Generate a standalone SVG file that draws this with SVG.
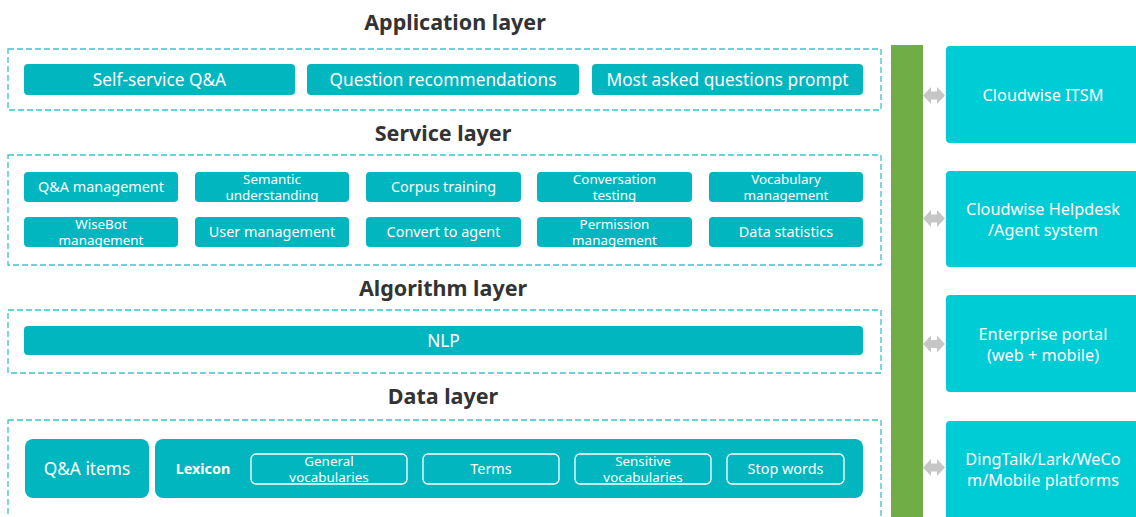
<svg xmlns="http://www.w3.org/2000/svg" width="1136" height="517" viewBox="0 0 1136 517">
<defs>
<style>
.title{font-family:"Noto Sans","Open Sans",sans-serif;font-weight:bold;font-size:21.5px;fill:#333;text-anchor:middle}
.frame{fill:none;stroke:#3cc3cd;stroke-width:1.3;stroke-dasharray:6 3}
.btn{fill:#02b6bf}
.bt{font-family:"Noto Sans","Open Sans",sans-serif;font-size:17.3px;fill:#fff;text-anchor:middle}
.st{font-family:"Noto Sans","Open Sans",sans-serif;font-size:14.4px;fill:#fff;text-anchor:middle}
.s2{font-family:"Noto Sans","Open Sans",sans-serif;font-size:13.4px;fill:#fff;text-anchor:middle}
.ob{fill:none;stroke:#fff;stroke-width:1.3}
.ext{fill:#00ccd5}
.et{font-family:"Noto Sans","Open Sans",sans-serif;font-size:16.3px;fill:#fff;text-anchor:middle}
.arr{fill:#c6c6c6}
</style>
<clipPath id="r1"><rect x="0" y="172" width="880" height="30"/></clipPath>
<clipPath id="r2"><rect x="0" y="217" width="880" height="30"/></clipPath>
<clipPath id="r3"><rect x="0" y="454" width="880" height="30"/></clipPath>
</defs>

<g id="application-layer">
<text class="title" x="455" y="30">Application layer</text>
<rect class="frame" x="8" y="49" width="873" height="61"/>
<rect class="btn" x="24" y="64" width="271" height="31" rx="4"/>
<text class="bt" x="159.5" y="85.5">Self-service Q&amp;A</text>
<rect class="btn" x="307" y="64" width="272" height="31" rx="4"/>
<text class="bt" x="443" y="85.5">Question recommendations</text>
<rect class="btn" x="592" y="64" width="271" height="31" rx="4"/>
<text class="bt" x="727.5" y="85.5">Most asked questions prompt</text>
</g>

<g id="service-layer">
<text class="title" x="443" y="141">Service layer</text>
<rect class="frame" x="8" y="155" width="873" height="110"/>
<rect class="btn" x="24" y="172" width="154" height="30" rx="4"/>
<text class="st" x="101" y="192">Q&amp;A management</text>
<rect class="btn" x="195" y="172" width="154" height="30" rx="4"/>
<g clip-path="url(#r1)"><text class="s2" x="272" y="183.5">Semantic</text><text class="s2" x="272" y="200">understanding</text></g>
<rect class="btn" x="366" y="172" width="155" height="30" rx="4"/>
<text class="st" x="443.5" y="192">Corpus training</text>
<rect class="btn" x="537" y="172" width="155" height="30" rx="4"/>
<g clip-path="url(#r1)"><text class="s2" x="614.5" y="183.5">Conversation</text><text class="s2" x="614.5" y="200">testing</text></g>
<rect class="btn" x="709" y="172" width="154" height="30" rx="4"/>
<g clip-path="url(#r1)"><text class="s2" x="786" y="183.5">Vocabulary</text><text class="s2" x="786" y="200">management</text></g>

<rect class="btn" x="24" y="217" width="154" height="30" rx="4"/>
<g clip-path="url(#r2)"><text class="s2" x="101" y="228.5">WiseBot</text><text class="s2" x="101" y="245">management</text></g>
<rect class="btn" x="195" y="217" width="154" height="30" rx="4"/>
<text class="st" x="272" y="237">User management</text>
<rect class="btn" x="366" y="217" width="155" height="30" rx="4"/>
<text class="st" x="443.5" y="237">Convert to agent</text>
<rect class="btn" x="537" y="217" width="155" height="30" rx="4"/>
<g clip-path="url(#r2)"><text class="s2" x="614.5" y="228.5">Permission</text><text class="s2" x="614.5" y="245">management</text></g>
<rect class="btn" x="709" y="217" width="154" height="30" rx="4"/>
<text class="st" x="786" y="237">Data statistics</text>
</g>

<g id="algorithm-layer">
<text class="title" x="443" y="296">Algorithm layer</text>
<rect class="frame" x="8" y="310" width="873" height="63"/>
<rect class="btn" x="24" y="326" width="839" height="29" rx="4"/>
<text class="bt" x="443.5" y="346.5">NLP</text>
</g>

<g id="data-layer">
<text class="title" x="443" y="404">Data layer</text>
<rect class="frame" x="8" y="420" width="873" height="110"/>
<rect class="btn" x="25" y="439" width="124" height="59" rx="8"/>
<text class="bt" x="87" y="474.5">Q&amp;A items</text>
<rect class="btn" x="155" y="439" width="708" height="59" rx="8"/>
<text class="st" x="203" y="473.5" style="font-weight:bold">Lexicon</text>
<rect class="ob" x="251" y="454" width="156" height="30" rx="5"/>
<g clip-path="url(#r3)"><text class="s2" x="329" y="465.5">General</text><text class="s2" x="329" y="482">vocabularies</text></g>
<rect class="ob" x="423" y="454" width="136" height="30" rx="5"/>
<text class="st" x="491" y="473.5">Terms</text>
<rect class="ob" x="575" y="454" width="136" height="30" rx="5"/>
<g clip-path="url(#r3)"><text class="s2" x="643" y="465.5">Sensitive</text><text class="s2" x="643" y="482">vocabularies</text></g>
<rect class="ob" x="727" y="454" width="117" height="30" rx="5"/>
<text class="st" x="785.5" y="473.5">Stop words</text>
</g>

<g id="bus">
<rect x="891" y="45" width="32" height="480" fill="#70ad47"/>
</g>

<g id="ext-itsm">
<rect class="ext" x="946" y="46" width="200" height="97" rx="4"/>
<text class="et" x="1043" y="100.5">Cloudwise ITSM</text>
</g>
<g id="ext-helpdesk">
<rect class="ext" x="946" y="171" width="200" height="96" rx="4"/>
<text class="et" x="1043" y="214.5">Cloudwise Helpdesk</text>
<text class="et" x="1043" y="235.5">/Agent system</text>
</g>
<g id="ext-portal">
<rect class="ext" x="946" y="295" width="200" height="97" rx="4"/>
<text class="et" x="1043" y="339.5">Enterprise portal</text>
<text class="et" x="1043" y="360.5">(web + mobile)</text>
</g>
<g id="ext-im">
<rect class="ext" x="946" y="421" width="200" height="110" rx="4"/>
<text class="et" x="1043" y="464.5">DingTalk/Lark/WeCo</text>
<text class="et" x="1043" y="485.5">m/Mobile platforms</text>
</g>

<g id="connectors">
<path class="arr" d="M923,95.5 L931,87 L931,91.5 L937,91.5 L937,87 L945,95.5 L937,104 L937,99.5 L931,99.5 L931,104 Z"/>
<path class="arr" d="M923,218.5 L931,210 L931,214.5 L937,214.5 L937,210 L945,218.5 L937,227 L937,222.5 L931,222.5 L931,227 Z"/>
<path class="arr" d="M923,344 L931,335.5 L931,340 L937,340 L937,335.5 L945,344 L937,352.5 L937,348 L931,348 L931,352.5 Z"/>
<path class="arr" d="M923,467.5 L931,459 L931,463.5 L937,463.5 L937,459 L945,467.5 L937,476 L937,471.5 L931,471.5 L931,476 Z"/>
</g>
</svg>
